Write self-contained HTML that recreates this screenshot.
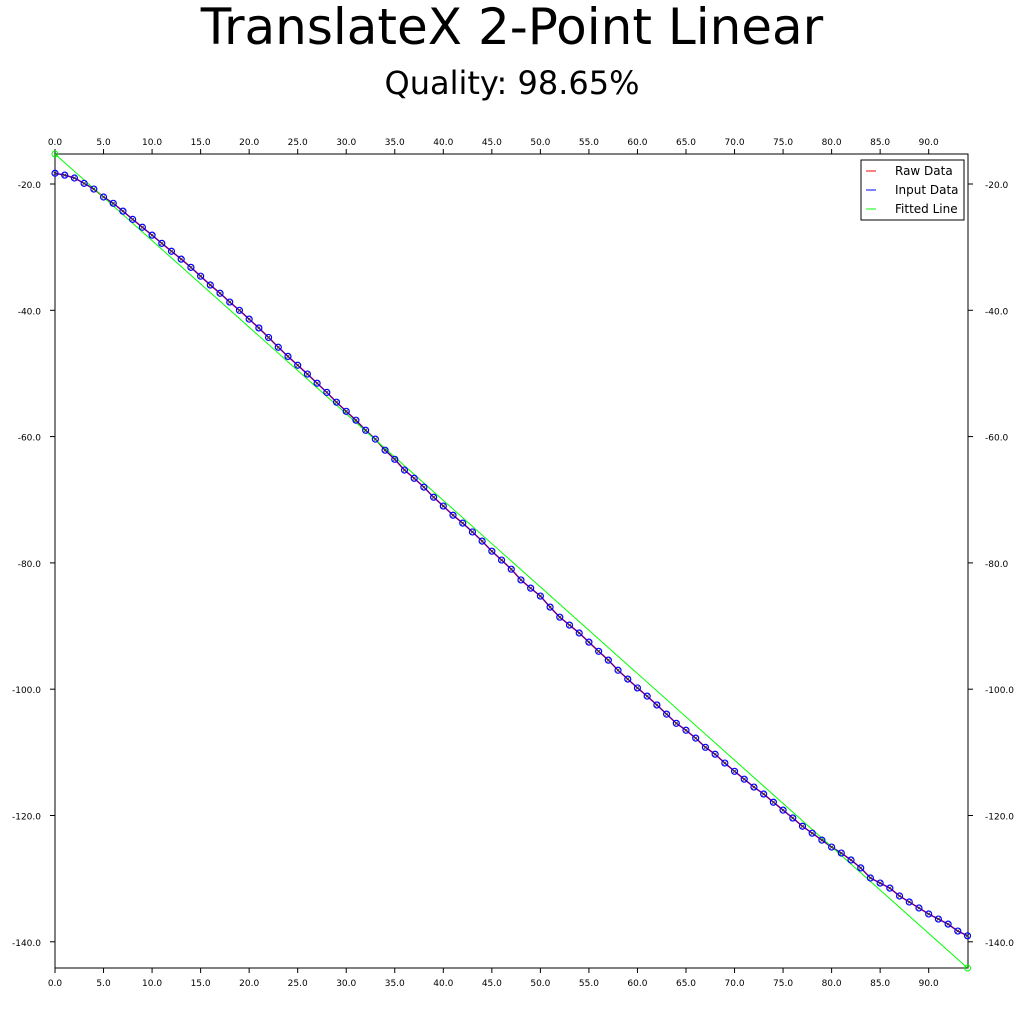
<!DOCTYPE html>
<html><head><meta charset="utf-8"><style>
body{margin:0;background:#fff;}
svg{display:block;font-family:"DejaVu Sans","Liberation Sans",sans-serif;}
</style></head><body>
<svg id="chart" width="1024" height="1024">
<text x="512" y="44" font-size="50" text-anchor="middle">TranslateX 2-Point Linear</text>
<text x="512" y="94" font-size="32" text-anchor="middle">Quality: 98.65%</text>
<g id="axes"></g>
<g id="series"></g>
<g>
<rect x="861" y="160" width="103" height="60" fill="#fff" stroke="#000"/>
<line x1="866" y1="171" x2="876" y2="171" stroke="red"/>
<text x="895" y="175" font-size="12">Raw Data</text>
<line x1="866" y1="190" x2="876" y2="190" stroke="blue"/>
<text x="895" y="194" font-size="12">Input Data</text>
<line x1="866" y1="209" x2="876" y2="209" stroke="#0f0"/>
<text x="895" y="213" font-size="12">Fitted Line</text>
</g>
</svg>
<script>
const xTicks=[0,5,10,15,20,25,30,35,40,45,50,55,60,65,70,75,80,85,90];
const yTicks=[-20,-40,-60,-80,-100,-120,-140];
const yValues=[-18.3,-18.6,-19.05,-19.9,-20.8,-22.06,-23.06,-24.3,-25.6,-26.85,-28.1,-29.4,-30.65,-31.9,-33.2,-34.6,-36.0,-37.3,-38.7,-40.0,-41.4,-42.8,-44.3,-45.85,-47.3,-48.7,-50.1,-51.55,-53.0,-54.55,-56.0,-57.4,-59.0,-60.4,-62.15,-63.6,-65.3,-66.6,-68.0,-69.6,-71.0,-72.45,-73.7,-75.1,-76.55,-78.15,-79.55,-81.0,-82.7,-84.0,-85.25,-87.0,-88.6,-89.85,-91.1,-92.55,-94.0,-95.4,-97.0,-98.4,-99.8,-101.1,-102.5,-103.95,-105.4,-106.5,-107.75,-109.2,-110.3,-111.7,-113.0,-114.25,-115.5,-116.6,-117.9,-119.15,-120.4,-121.7,-122.8,-123.9,-125.0,-125.95,-127.05,-128.3,-129.9,-130.7,-131.5,-132.75,-133.7,-134.65,-135.6,-136.4,-137.2,-138.3,-139.05];
const fitX=[0,94];
const fitY=[-15.25,-144.15];
const L=55,R=968,T=154,B=968;
const xMin=0,xMax=94.05,yMax=-15.25,yMin=-144.15;
const sx=v=>L+(v-xMin)/(xMax-xMin)*(R-L);
const sy=v=>T+(yMax-v)/(yMax-yMin)*(B-T);
const NS='http://www.w3.org/2000/svg';
function mk(tag,attrs,parent){const e=document.createElementNS(NS,tag);for(const k in attrs)e.setAttribute(k,attrs[k]);parent.appendChild(e);return e;}
const ax=document.getElementById('axes'),se=document.getElementById('series');
const frame=mk('rect',{x:L,y:T,width:R-L,height:B-T,fill:'none',stroke:'#000'},ax);


xTicks.forEach(v=>{
 const x=sx(v);
 [[T,T-5,T-9],[B,B+5,B+18]].forEach(([a,b,ty],i)=>{
  const t=mk('line',{x1:x,y1:a,x2:x,y2:b,stroke:'#000'},ax);
  
  
  const lb=mk('text',{x:x,y:ty,'font-size':9,'text-anchor':'middle'},ax);
  lb.textContent=v.toFixed(1);
  
  
 });
});
yTicks.forEach(v=>{
 const y=sy(v);
 [[L,L-5,41,'end'],[R,R+5,985,'start']].forEach(([a,b,tx,an],i)=>{
  const t=mk('line',{x1:a,y1:y,x2:b,y2:y,stroke:'#000'},ax);
  
  
  const lb=mk('text',{x:tx,y:y+4,'font-size':9,'text-anchor':an},ax);
  lb.textContent=v.toFixed(1);
  
  
 });
});
const pts=yValues.map((v,i)=>sx(i)+','+sy(v)).join(' ');
const raw=mk('polyline',{points:pts,fill:'none',stroke:'red','stroke-width':1.5},se);


const inp=mk('polyline',{points:pts,fill:'none',stroke:'blue','stroke-width':1,'stroke-opacity':0.8},se);


const fit=mk('line',{x1:sx(fitX[0]),y1:sy(fitY[0]),x2:sx(fitX[1]),y2:sy(fitY[1]),stroke:'#0f0','stroke-width':1},se);


yValues.forEach((v,i)=>{
 const cx=sx(i),cy=sy(v);
 const g=mk('g',{},se);
 
 
 mk('circle',{cx:cx,cy:cy,r:3,fill:'none',stroke:'blue','stroke-width':1.2},g);
 mk('path',{d:`M${cx-1.5},${cy-1.5}L${cx+1.5},${cy+1.5}M${cx-1.5},${cy+1.5}L${cx+1.5},${cy-1.5}`,stroke:'#333','stroke-width':0.8},g);
});
fitX.forEach((v,i)=>{
 const c=mk('circle',{cx:sx(v),cy:sy(fitY[i]),r:3,fill:'none',stroke:'#0f0'},se);
 
 
});
</script>
</body></html>
